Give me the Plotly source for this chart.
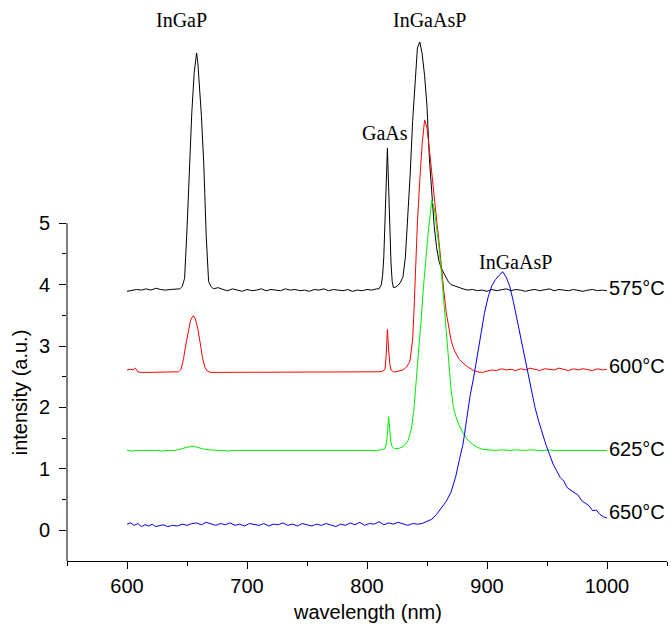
import plotly.graph_objects as go

# ---------------- data ----------------
black_wl = [
    600, 604, 608, 612, 616, 620, 624, 628, 632, 636,
    640, 644, 646, 648, 650, 652, 654, 656, 657, 658,
    659, 660, 662, 664, 666, 668, 670, 672, 676, 680,
    684, 688, 692, 696, 700, 704, 708, 712, 716, 720,
    724, 728, 732, 736, 740, 744, 748, 752, 756, 760,
    764, 768, 772, 776, 780, 784, 788, 792, 796, 800,
    804, 808, 810, 812, 813, 814, 815, 816, 817, 818,
    819, 820, 821, 822, 824, 826, 828, 830, 832, 834,
    836, 838, 840, 842, 844, 846, 848, 850, 852, 854,
    856, 858, 860, 862, 864, 866, 868, 870, 873, 876,
    880, 884, 888, 892, 896, 900, 904, 908, 912, 916,
    920, 924, 928, 932, 936, 940, 944, 948, 952, 956,
    960, 964, 968, 972, 976, 980, 984, 988, 992, 996,
    1000]
black_int = [
    3.89, 3.90, 3.92, 3.91, 3.93, 3.91, 3.94, 3.92, 3.91, 3.92,
    3.93, 3.93, 3.97, 4.10, 4.90, 6.00, 6.80, 7.45, 7.68, 7.77,
    7.62, 7.35, 6.75, 5.95, 4.80, 4.05, 3.97, 3.93, 3.95, 3.92,
    3.90, 3.93, 3.91, 3.89, 3.92, 3.90, 3.91, 3.93, 3.90, 3.92,
    3.91, 3.90, 3.93, 3.91, 3.92, 3.90, 3.91, 3.89, 3.92, 3.91,
    3.93, 3.90, 3.92, 3.91, 3.90, 3.92, 3.89, 3.91, 3.90, 3.92,
    3.91, 3.93, 3.93, 4.00, 4.15, 4.45, 4.95, 5.70, 6.22, 5.60,
    4.85, 4.35, 4.05, 3.95, 3.96, 3.99, 4.04, 4.13, 4.45, 5.10,
    5.80, 6.65, 7.35, 7.85, 7.95, 7.75, 7.40, 6.90, 6.05, 5.45,
    4.95, 4.60, 4.38, 4.26, 4.18, 4.10, 4.04, 4.00, 3.98, 3.95,
    3.93, 3.91, 3.92, 3.90, 3.91, 3.89, 3.92, 3.90, 3.91, 3.93,
    3.90, 3.92, 3.91, 3.89, 3.91, 3.92, 3.90, 3.91, 3.93, 3.90,
    3.92, 3.91, 3.90, 3.92, 3.91, 3.89, 3.91, 3.92, 3.90, 3.91,
    3.90]

red_wl = [
    600, 603, 605, 607, 609, 612, 616, 620, 624, 628,
    632, 636, 640, 643, 645, 647, 649, 651, 653, 655,
    656, 657, 659, 661, 663, 665, 667, 670, 674, 678,
    682, 686, 690, 694, 698, 702, 706, 710, 714, 718,
    722, 726, 730, 734, 738, 742, 746, 750, 754, 758,
    762, 766, 770, 774, 778, 782, 786, 790, 794, 798,
    802, 806, 810, 813, 815, 816, 817, 818, 819, 820,
    822, 824, 827, 830, 833, 835, 836, 838, 839, 840,
    841, 842, 844, 846, 848, 850, 852, 854, 856, 858,
    860, 862, 864, 866, 868, 870, 872, 874, 877, 880,
    884, 888, 892, 896, 900, 904, 908, 912, 916, 920,
    924, 928, 932, 936, 940, 944, 948, 952, 956, 960,
    964, 968, 972, 976, 980, 984, 988, 992, 996, 1000]
red_int = [
    2.61, 2.62, 2.61, 2.64, 2.58, 2.57, 2.57, 2.57, 2.57, 2.57,
    2.57, 2.57, 2.57, 2.58, 2.62, 2.78, 3.02, 3.25, 3.42, 3.49,
    3.48, 3.44, 3.28, 3.05, 2.80, 2.65, 2.59, 2.57, 2.57, 2.57,
    2.57, 2.57, 2.58, 2.57, 2.57, 2.57, 2.58, 2.57, 2.57, 2.57,
    2.57, 2.58, 2.57, 2.57, 2.57, 2.57, 2.58, 2.57, 2.57, 2.58,
    2.57, 2.57, 2.57, 2.58, 2.57, 2.57, 2.57, 2.58, 2.57, 2.57,
    2.57, 2.58, 2.58, 2.59, 2.62, 2.85, 3.27, 2.95, 2.70, 2.61,
    2.58, 2.58, 2.59, 2.61, 2.66, 2.72, 2.78, 3.10, 3.50, 4.00,
    4.55, 5.00, 5.70, 6.30, 6.68, 6.55, 6.20, 5.80, 5.35, 5.05,
    4.70, 4.25, 3.90, 3.55, 3.30, 3.10, 2.97, 2.88, 2.78, 2.72,
    2.66, 2.61, 2.58, 2.57, 2.59, 2.61, 2.60, 2.63, 2.61, 2.62,
    2.60, 2.63, 2.61, 2.64, 2.62, 2.60, 2.63, 2.62, 2.61, 2.64,
    2.62, 2.60, 2.63, 2.61, 2.63, 2.62, 2.60, 2.63, 2.61, 2.62]

green_wl = [
    600, 604, 608, 612, 616, 620, 624, 628, 632, 636,
    640, 644, 648, 651, 654, 657, 660, 664, 668, 672,
    676, 680, 684, 688, 692, 696, 700, 704, 708, 712,
    716, 720, 724, 728, 732, 736, 740, 744, 748, 752,
    756, 760, 764, 768, 772, 776, 780, 784, 788, 792,
    796, 800, 804, 808, 812, 815, 816, 817, 818, 819,
    820, 821, 823, 826, 830, 834, 837, 839, 841, 843,
    845, 847, 849, 851, 853, 854, 856, 858, 860, 862,
    864, 866, 868, 870, 872, 874, 877, 880, 884, 888,
    892, 896, 900, 904, 908, 912, 916, 920, 924, 928,
    932, 936, 940, 944, 948, 952, 956, 960, 964, 968,
    972, 976, 980, 984, 988, 992, 996, 1000]
green_int = [
    1.30, 1.29, 1.30, 1.30, 1.31, 1.30, 1.30, 1.29, 1.30, 1.30,
    1.30, 1.32, 1.34, 1.36, 1.37, 1.36, 1.34, 1.32, 1.31, 1.30,
    1.30, 1.30, 1.29, 1.30, 1.30, 1.30, 1.29, 1.30, 1.30, 1.30,
    1.30, 1.29, 1.30, 1.30, 1.30, 1.30, 1.29, 1.30, 1.30, 1.30,
    1.30, 1.30, 1.29, 1.30, 1.30, 1.30, 1.30, 1.29, 1.30, 1.30,
    1.30, 1.30, 1.30, 1.30, 1.31, 1.33, 1.40, 1.55, 1.85, 1.65,
    1.42, 1.36, 1.33, 1.33, 1.36, 1.45, 1.65, 1.95, 2.40, 2.90,
    3.40, 3.95, 4.45, 4.85, 5.20, 5.37, 5.25, 4.95, 4.60, 4.20,
    3.70, 3.20, 2.70, 2.30, 2.00, 1.85, 1.70, 1.58, 1.47, 1.40,
    1.35, 1.32, 1.31, 1.30, 1.30, 1.31, 1.30, 1.30, 1.31, 1.30,
    1.30, 1.31, 1.30, 1.30, 1.30, 1.31, 1.30, 1.30, 1.30, 1.31,
    1.30, 1.30, 1.31, 1.30, 1.30, 1.30, 1.31, 1.30]

blue_wl = [
    600, 603, 606, 609, 612, 615, 618, 621, 624, 627,
    630, 634, 638, 642, 646, 650, 654, 658, 662, 666,
    670, 674, 678, 682, 686, 690, 694, 698, 702, 706,
    710, 714, 718, 722, 726, 730, 734, 738, 742, 746,
    750, 754, 758, 762, 766, 770, 774, 778, 782, 786,
    790, 794, 798, 802, 806, 810, 814, 818, 822, 826,
    830, 834, 838, 842, 846, 850, 854, 858, 862, 866,
    870, 874, 877, 880, 883, 886, 889, 892, 895, 898,
    901, 904, 907, 910, 913, 916, 919, 922, 925, 928,
    931, 934, 937, 940, 943, 946, 949, 952, 955, 958,
    961, 964, 967, 970, 973, 976, 979, 982, 985, 988,
    991, 994, 997, 1000]
blue_int = [
    0.10, 0.12, 0.08, 0.11, 0.06, 0.09, 0.07, 0.10, 0.06, 0.08,
    0.09, 0.06, 0.08, 0.07, 0.10, 0.08, 0.11, 0.12, 0.09, 0.13,
    0.10, 0.08, 0.11, 0.09, 0.12, 0.08, 0.10, 0.07, 0.11, 0.09,
    0.08, 0.11, 0.07, 0.10, 0.09, 0.12, 0.08, 0.10, 0.07, 0.11,
    0.09, 0.07, 0.10, 0.08, 0.11, 0.09, 0.06, 0.10, 0.08, 0.12,
    0.09, 0.13, 0.08, 0.11, 0.10, 0.14, 0.09, 0.12, 0.10, 0.13,
    0.10, 0.08, 0.11, 0.10, 0.11, 0.14, 0.18, 0.26, 0.36, 0.47,
    0.62, 0.88, 1.15, 1.40, 1.80, 2.20, 2.50, 2.85, 3.25, 3.55,
    3.80, 3.98, 4.08, 4.15, 4.21, 4.12, 3.97, 3.72, 3.43, 3.13,
    2.83, 2.55, 2.25, 2.00, 1.78, 1.58, 1.40, 1.24, 1.08, 0.97,
    0.86, 0.80, 0.69, 0.65, 0.61, 0.57, 0.48, 0.44, 0.40, 0.32,
    0.33, 0.26, 0.22, 0.20]

series_names = ["575°C", "600°C", "625°C", "650°C"]
series_colors = ["#000000", "#ff0000", "#00ee00", "#0000ff"]
label_y = [3.94, 2.67, 1.32, 0.29]

peak_labels = ["InGaP", "InGaAsP", "GaAs", "InGaAsP"]
peak_x = [645, 852, 815, 924]
peak_y = [8.31, 8.31, 6.47, 4.36]

x_ticks = [600, 700, 800, 900, 1000]
x_minor = [550, 650, 750, 850, 950, 1050]
y_ticks = [0, 1, 2, 3, 4, 5]
y_minor = [0.5, 1.5, 2.5, 3.5, 4.5]

# ---------------- figure ----------------
fig = go.Figure()
all_wl = [black_wl, red_wl, green_wl, blue_wl]
all_int = [black_int, red_int, green_int, blue_int]
for wl, it, name, col in zip(all_wl, all_int, series_names, series_colors):
    fig.add_trace(go.Scatter(x=wl, y=it, mode="lines", name=name,
                             line=dict(color=col, width=1), showlegend=False))

sans = "Liberation Sans, Arial, sans-serif"
serif = "Liberation Serif, Times New Roman, serif"

for name, yy in zip(series_names, label_y):
    fig.add_annotation(x=1000, y=yy, text=name, showarrow=False, xanchor="left",
                       yanchor="middle", xshift=0, font=dict(family=sans, size=20, color="black"))

for t, xx, yy in zip(peak_labels, peak_x, peak_y):
    fig.add_annotation(x=xx, y=yy, text=t, showarrow=False, xanchor="center",
                       yanchor="middle", font=dict(family=serif, size=20, color="black"))

# y axis title centred on the drawn axis line
fig.add_annotation(xref="paper", x=-0.078, y=2.25, text="intensity (a.u.)", textangle=-90,
                   showarrow=False, xanchor="center", yanchor="middle",
                   font=dict(family=sans, size=20, color="black"))
# x axis title
fig.add_annotation(xref="paper", yref="paper", x=0.5, y=-0.091, text="wavelength (nm)",
                   showarrow=False, xanchor="center", yanchor="middle",
                   font=dict(family=sans, size=20, color="black"))

# left axis line only from -0.5 to 5
fig.add_shape(type="line", xref="paper", yref="y", x0=0, x1=0, y0=-0.5, y1=5,
              line=dict(color="black", width=1))

fig.update_layout(
    width=671, height=632,
    margin=dict(l=67, r=4, t=2, b=71),
    paper_bgcolor="white", plot_bgcolor="white",
    font=dict(family=sans, size=20, color="black"),
    xaxis=dict(range=[550, 1050], showgrid=False, zeroline=False,
               showline=True, linecolor="black", linewidth=1,
               tickmode="array", tickvals=x_ticks, ticks="outside", ticklen=7,
               tickcolor="black", tickwidth=1, tickfont=dict(size=20),
               minor=dict(tickmode="array", tickvals=x_minor, ticks="outside",
                          ticklen=4, tickcolor="black", tickwidth=1)),
    yaxis=dict(range=[-0.5, 8.6], showgrid=False, zeroline=False, showline=False,
               tickmode="array", tickvals=y_ticks, ticks="outside", ticklen=7,
               tickcolor="black", tickwidth=1, tickfont=dict(size=20),
               ticklabelstandoff=5,
               minor=dict(tickmode="array", tickvals=y_minor, ticks="outside",
                          ticklen=4, tickcolor="black", tickwidth=1)),
)

fig.write_html("out.html", config={"displayModeBar": False},
               post_script="document.body.style.margin='0';")
